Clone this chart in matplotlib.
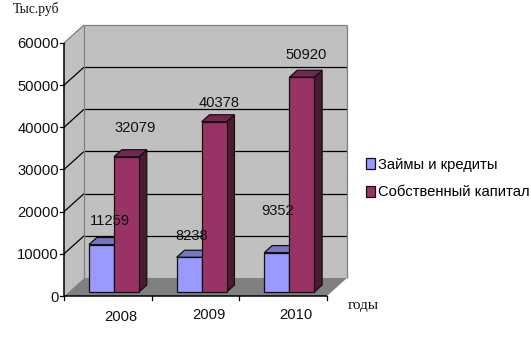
import matplotlib
matplotlib.use('Agg')
from matplotlib import pyplot as plt
from matplotlib.patches import Polygon

years = ['2008', '2009', '2010']
loans = [11259, 8238, 9352]
equity = [32079, 40378, 50920]
yticks = [0, 10000, 20000, 30000, 40000, 50000, 60000]

# picture scale, pixels per category and per unit of value
W, H = 531, 356
X0, Y0 = 64, 296
PX_X = 87.67
PX_Y = 42.17 / 10000
DEPTH_X = 20 / PX_X
DEPTH_Y = 18 / PX_Y

plt.rcParams['font.family'] = ['Liberation Sans', 'DejaVu Sans']

fig = plt.figure(figsize=(W / 100, H / 100), dpi=100)
ax = fig.add_axes([0, 0, 1, 1])
ax.set_xlim(-X0 / PX_X, (W - X0) / PX_X)
ax.set_ylim(-(H - Y0) / PX_Y, Y0 / PX_Y)
ax.axis('off')


def p(x, y, d=0):
    # d is depth, 0 = front of the box, 1 = back wall
    return (x + d * DEPTH_X, y + d * DEPTH_Y)


def poly(pts, fc, ec='none', lw=0.0, z=1, label=None):
    patch = Polygon(pts, closed=True, fc=fc, ec=ec, lw=lw, zorder=z, label=label, joinstyle='miter')
    ax.add_patch(patch)
    return patch


def line(a, b, color='black', lw=0.9, z=2):
    ax.plot([a[0], b[0]], [a[1], b[1]], color=color, lw=lw, zorder=z, solid_capstyle='butt')


n = len(years)
top = yticks[-1]

# box
poly([p(0, 0), p(0, 0, 1), p(0, top, 1), p(0, top)], '#C0C0C0')
poly([p(0, 0, 1), p(n, 0, 1), p(n, top, 1), p(0, top, 1)], '#C0C0C0')
poly([p(0, 0), p(n, 0), p(n, 0, 1), p(0, 0, 1)], '#808080')

for t in yticks[1:-1]:
    line(p(0, t), p(0, t, 1))
    line(p(0, t, 1), p(n, t, 1))
line(p(0, top), p(0, top, 1), color='#808080')
line(p(0, top, 1), p(n, top, 1), color='#808080')
line(p(0, 0, 1), p(0, top, 1), color='#808080')
line(p(n, 0, 1), p(n, top, 1), color='#808080')

line(p(0, 0), p(0, top), lw=1.1, z=3)
line(p(0, 0), p(n, 0), lw=1.1, z=3)
for t in yticks:
    ax.plot([-4 / PX_X, 0], [t, t], color='black', lw=0.9, zorder=3)
    ax.text(-5 / PX_X, t - 1.5 / PX_Y, str(t), ha='right', va='center', fontsize=10.6, color='#111111')
for i in range(n + 1):
    ax.plot([i, i], [0, -4 / PX_Y], color='black', lw=0.9, zorder=3)


def bar3d(x, w, v, front, side, cap, z, label=None):
    d0, d1 = 0.22, 0.61
    e = '#111111'
    poly([p(x + w, 0, d0), p(x + w, 0, d1), p(x + w, v, d1), p(x + w, v, d0)], side, e, 0.9, z)
    poly([p(x, v, d0), p(x + w, v, d0), p(x + w, v, d1), p(x, v, d1)], cap, e, 0.9, z)
    return poly([p(x, 0, d0), p(x + w, 0, d0), p(x + w, v, d0), p(x, v, d0)], front, e, 0.9, z, label)


bw = 0.285
h1 = h2 = None
for i in range(n):
    h1 = bar3d(i + 0.235, bw, loans[i], '#9999FF', '#6A6AB3', '#7777BF', 5 + i)
    h2 = bar3d(i + 0.235 + bw, bw, equity[i], '#993366', '#4D1A33', '#732650', 5.5 + i)

# data labels were moved by hand in the original, offsets in pixels from the bar top
loan_off = [(25, 28), (19.5, 25), (18, 46)]
equity_off = [(26, 33), (22, 23), (21, 26)]
for i in range(n):
    ax.annotate(str(loans[i]), xy=p(i + 0.235, loans[i]), xytext=loan_off[i],
                textcoords='offset pixels', ha='center', va='center', fontsize=10.6, color='#111111', zorder=20)
    ax.annotate(str(equity[i]), xy=p(i + 0.235 + bw, equity[i]), xytext=equity_off[i],
                textcoords='offset pixels', ha='center', va='center', fontsize=10.6, color='#111111', zorder=20)

year_off = [(13, -21), (13, -19), (13, -19)]
for i in range(n):
    ax.annotate(years[i], xy=(i + 0.5, 0), xytext=year_off[i], textcoords='offset pixels',
                ha='center', va='center', fontsize=10.6, color='#111111')

ax.text(13 / W, 1 - 9 / H, 'Тыс.руб', transform=ax.transAxes, family='Liberation Serif',
        fontsize=9.8, ha='left', va='center', color='#111111')
ax.text(348 / W, 1 - 306 / H, 'годы', transform=ax.transAxes, family='Liberation Serif',
        fontsize=11, ha='left', va='center', color='#111111')

leg = ax.legend([h1, h2], ['Займы и кредиты', 'Собственный капитал'], frameon=False, fontsize=10.6,
                loc='center left', bbox_to_anchor=(366 / W, 1 - 178.5 / H), handlelength=0.62,
                handleheight=0.8, handletextpad=0.2, labelspacing=0.95, borderpad=0, borderaxespad=0)

fig.savefig('out.png', dpi=100)
